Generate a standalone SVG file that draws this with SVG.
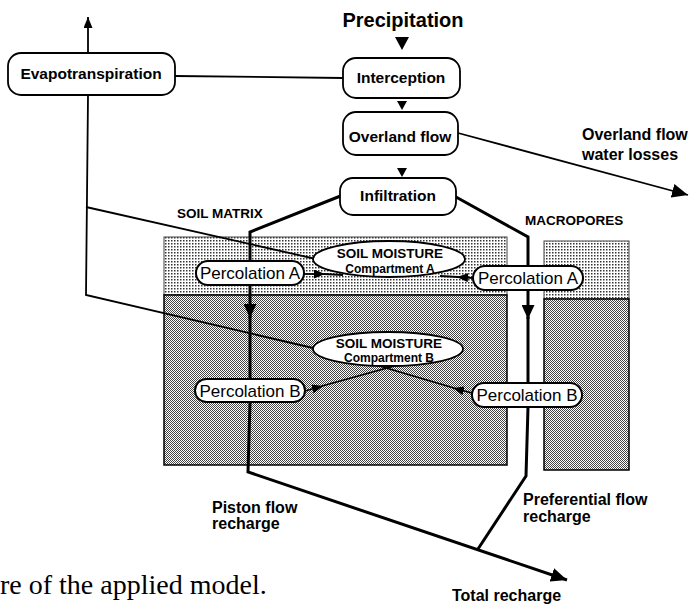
<svg xmlns="http://www.w3.org/2000/svg" width="691" height="605" viewBox="0 0 691 605">
<style>
text{font-family:"Liberation Sans",Arial,sans-serif;fill:#000}
.lbl{font-weight:bold;font-size:15.5px;text-anchor:middle}
.box{fill:#fff;stroke:#000;stroke-width:1.8}
.perc{fill:#fff;stroke:#000;stroke-width:2}
.ptxt{font-size:17px;text-anchor:middle}
.ell{fill:#fff;stroke:#000;stroke-width:1.8}
.et1{font-weight:bold;font-size:13.5px;text-anchor:middle}
.et2{font-weight:bold;font-size:12px;text-anchor:middle}
.ln{fill:none;stroke:#000;stroke-width:1.8}
.thick{fill:none;stroke:#000;stroke-width:3}
.note{font-weight:bold;font-size:16px}
.zone{font-weight:bold;font-size:13.5px}
.tri{fill:#000}
.cap{font-family:"Liberation Serif","Times New Roman",serif;font-size:28px}
</style>
<defs>
<pattern id="light" width="3" height="3" patternUnits="userSpaceOnUse"><rect width="3" height="3" fill="#fff"/><rect width="1.5" height="1.5" fill="#333"/></pattern>
<pattern id="dark" width="2" height="2" patternUnits="userSpaceOnUse"><rect width="2" height="2" fill="#fff"/><rect width="1" height="1" fill="#444"/><rect x="1" y="1" width="1" height="1" fill="#444"/></pattern>
<marker id="m-big" viewBox="0 0 10 10" refX="10" refY="5" markerWidth="16" markerHeight="14" markerUnits="userSpaceOnUse" orient="auto" preserveAspectRatio="none"><path d="M0,0 L10,5 L0,10 Z"/></marker>
<marker id="m-mid" viewBox="0 0 10 10" refX="10" refY="5" markerWidth="14" markerHeight="13" markerUnits="userSpaceOnUse" orient="auto" preserveAspectRatio="none"><path d="M0,0 L10,5 L0,10 Z"/></marker>
<marker id="m-small" viewBox="0 0 10 10" refX="10" refY="5" markerWidth="11" markerHeight="9" markerUnits="userSpaceOnUse" orient="auto" preserveAspectRatio="none"><path d="M0,0 L10,5 L0,10 Z"/></marker>
</defs>

<g id="soil-layers">
<rect x="164" y="237" width="343" height="58" fill="url(#light)" stroke="#444" stroke-width="1"/>
<rect x="164" y="295" width="343" height="170" fill="url(#dark)" stroke="#000" stroke-width="1.5"/>
<rect x="544" y="241" width="85" height="58" fill="url(#light)" stroke="#444" stroke-width="1"/>
<rect x="544" y="299" width="85" height="171" fill="url(#dark)" stroke="#000" stroke-width="1.5"/>
</g>

<g id="connectors">
<line class="ln" x1="88" y1="53" x2="88" y2="17" marker-end="url(#m-small)"/>
<line class="ln" x1="175" y1="76" x2="343" y2="78"/>
<polyline class="ln" points="88,96 86,295 313,348"/>
<line class="ln" x1="86" y1="207" x2="316" y2="259"/>
<polygon class="tri" points="395,37 409,37 402,50"/>
<polygon class="tri" points="397,101 407,101 402,110"/>
<polygon class="tri" points="397,168 407,168 402,177"/>
<line class="ln" x1="458" y1="133" x2="688" y2="195" stroke-width="2.4" marker-end="url(#m-big)"/>
<polyline class="thick" points="343,195 250,232 250,261"/>
<line class="thick" x1="250" y1="285" x2="250" y2="318" marker-end="url(#m-mid)"/>
<line class="thick" x1="250" y1="316" x2="250" y2="379"/>
<polyline class="thick" points="250,402 248,472 567,580" marker-end="url(#m-big)"/>
<polyline class="thick" points="456,197 528,237 528,266"/>
<line class="thick" x1="528" y1="290" x2="528" y2="319" marker-end="url(#m-mid)"/>
<line class="thick" x1="528" y1="317" x2="528" y2="383"/>
<polyline class="thick" points="528,407 526,476 478,549"/>
<line class="ln" x1="304" y1="274" x2="325" y2="274" marker-end="url(#m-small)"/>
<line class="ln" x1="324" y1="274" x2="343" y2="275"/>
<line class="ln" x1="473" y1="278" x2="457" y2="277" marker-end="url(#m-small)"/>
<line class="ln" x1="458" y1="277" x2="440" y2="276"/>
<line class="ln" x1="305" y1="391" x2="323" y2="386" marker-end="url(#m-small)"/>
<line class="ln" x1="322" y1="386" x2="398" y2="365"/>
<line class="ln" x1="472" y1="393" x2="453" y2="388" marker-end="url(#m-small)"/>
<line class="ln" x1="454" y1="388" x2="376" y2="365"/>
</g>

<g id="precipitation"><text x="403" y="27" font-size="20" font-weight="bold" text-anchor="middle">Precipitation</text></g>
<g id="evapotranspiration"><rect class="box" x="8" y="53" width="167" height="42" rx="13"/><text class="lbl" x="91" y="79">Evapotranspiration</text></g>
<g id="interception"><rect class="box" x="343" y="58" width="117" height="40" rx="13"/><text class="lbl" x="401" y="83">Interception</text></g>
<g id="overland-flow"><rect class="box" x="343" y="112" width="115" height="43" rx="13"/><text class="lbl" x="400" y="142">Overland flow</text></g>
<g id="infiltration"><rect class="box" x="340" y="178" width="116" height="37" rx="13"/><text class="lbl" x="398" y="201">Infiltration</text></g>

<g id="soil-moisture-a"><ellipse class="ell" cx="389" cy="259" rx="76" ry="18"/><text class="et1" x="390" y="258">SOIL MOISTURE</text><text class="et2" x="390" y="273">Compartment A</text></g>
<g id="soil-moisture-b"><ellipse class="ell" cx="388" cy="349" rx="75" ry="17"/><text class="et1" x="389" y="348">SOIL MOISTURE</text><text class="et2" x="389" y="362">Compartment B</text></g>

<g id="percolation-a-matrix"><rect class="perc" x="196" y="261" width="108" height="24" rx="12"/><text class="ptxt" x="250" y="279">Percolation A</text></g>
<g id="percolation-a-macropores"><rect class="perc" x="473" y="266" width="110" height="24" rx="12"/><text class="ptxt" x="528" y="284">Percolation A</text></g>
<g id="percolation-b-matrix"><rect class="perc" x="195" y="379" width="110" height="23" rx="11.5"/><text class="ptxt" x="250" y="397">Percolation B</text></g>
<g id="percolation-b-macropores"><rect class="perc" x="472" y="383" width="110" height="24" rx="12"/><text class="ptxt" x="527" y="401">Percolation B</text></g>

<g id="labels">
<text class="zone" x="177" y="218">SOIL MATRIX</text>
<text class="zone" x="525" y="225">MACROPORES</text>
<text class="note" x="582" y="140">Overland flow</text>
<text class="note" x="582" y="160">water losses</text>
<text class="note" x="212" y="513">Piston flow</text>
<text class="note" x="212" y="529">recharge</text>
<text class="note" x="523" y="505">Preferential flow</text>
<text class="note" x="523" y="522">recharge</text>
<text class="note" x="452" y="601">Total recharge</text>
<text class="cap" x="0" y="594">re of the applied model.</text>
</g>
</svg>
